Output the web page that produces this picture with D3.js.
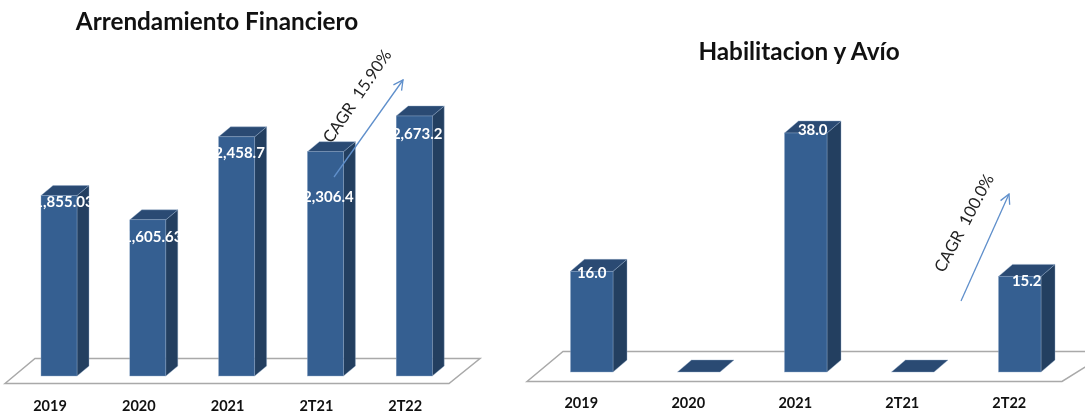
<!DOCTYPE html>
<html>
<head>
<meta charset="utf-8">
<script src="https://cdnjs.cloudflare.com/ajax/libs/d3/7.8.5/d3.min.js"></script>
<style>
  html, body { margin: 0; padding: 0; background: #fff; overflow: hidden; }
  svg { display: block; font-family: Lato, "Open Sans", sans-serif; filter: blur(0.4px); }
</style>
</head>
<body>
<svg id="chart" width="1085" height="416"></svg>
<script>
const categories = ['2019', '2020', '2021', '2T21', '2T22'];

const arrendamientoValues = [1855.03, 1605.63, 2458.7, 2306.4, 2673.2];
const arrendamientoLabels = ['1,855.03', '1,605.63', '2,458.7', '2,306.4', '2,673.2'];

const habilitacionValues = [16.0, 0, 38.0, 0, 15.2];
const habilitacionLabels = ['16.0', '', '38.0', '', '15.2'];

const svg = d3.select('#chart');
svg.append('defs').selectAll('marker')
  .data(['arrow'])
  .enter()
  .append('marker')
  .attr('id', d => d)
  .attr('viewBox', '0 0 12 12')
  .attr('refX', 10.5)
  .attr('refY', 6)
  .attr('markerWidth', 12)
  .attr('markerHeight', 12)
  .attr('markerUnits', 'userSpaceOnUse')
  .attr('orient', 'auto')
  .append('path')
  .attr('d', 'M1,1 L10.5,6 L1,11')
  .attr('fill', 'none')
  .attr('stroke', '#5f8fcb')
  .attr('stroke-width', 1.3);

function drawPanel(cfg) {
  const g = svg.append('g');
  const step = cfg.step;
  const pad = 1 - cfg.barWidth / step;

  const x = d3.scaleBand()
    .domain(categories)
    .range([cfg.x0 - pad * step / 2, cfg.x0 - pad * step / 2 + step * categories.length])
    .paddingInner(pad)
    .paddingOuter(pad / 2);

  const y = d3.scaleLinear()
    .domain(cfg.domain)
    .range([cfg.baseY, cfg.baseY - cfg.plotHeight]);

  // title
  g.append('text')
    .attr('x', cfg.titleX)
    .attr('y', cfg.titleY)
    .attr('text-anchor', 'middle')
    .attr('font-size', cfg.titleSize)
    .attr('font-weight', 700)
    .attr('fill', '#111')
    .text(cfg.title);

  // floor
  g.append('path')
    .attr('d', d3.line()(cfg.floor) + 'Z')
    .attr('fill', '#fff')
    .attr('stroke', '#a9a9a9')
    .attr('stroke-width', 1.5);

  const bars = g.selectAll('g.bar')
    .data(cfg.values.map((v, i) => ({ cat: categories[i], v, label: cfg.labels[i], i })))
    .enter()
    .append('g')
    .attr('class', 'bar');

  const dx = cfg.depthX;
  const dy = cfg.depthY;
  const bw = x.bandwidth();
  const edge = '#8fa8c8';

  // side
  bars.filter(d => d.v > 0).append('path')
    .attr('d', d => {
      const l = x(d.cat) + bw;
      return `M${l},${y(d.v)}L${l + dx},${y(d.v) - dy}L${l + dx},${cfg.baseY - dy}L${l},${cfg.baseY}Z`;
    })
    .attr('fill', '#233f60')
    .attr('stroke', edge)
    .attr('stroke-width', 0.4);

  // top
  bars.append('path')
    .attr('d', d => {
      const l = x(d.cat);
      return `M${l},${y(d.v)}L${l + dx},${y(d.v) - dy}L${l + bw + dx},${y(d.v) - dy}L${l + bw},${y(d.v)}Z`;
    })
    .attr('fill', '#2a4a73')
    .attr('stroke', edge)
    .attr('stroke-width', 0.4);

  // front
  bars.filter(d => d.v > 0).append('rect')
    .attr('x', d => x(d.cat))
    .attr('y', d => y(d.v))
    .attr('width', bw)
    .attr('height', d => cfg.baseY - y(d.v))
    .attr('fill', '#355f91')
    .attr('stroke', edge)
    .attr('stroke-width', 0.4);

  // value labels
  bars.filter(d => d.v > 0).append('text')
    .attr('x', d => x(d.cat) + bw / 2 + cfg.labelNudgeX[d.i])
    .attr('y', d => y(d.v) + cfg.labelNudgeY[d.i])
    .attr('dy', '0.35em')
    .attr('text-anchor', 'middle')
    .attr('font-size', 15)
    .attr('font-weight', 700)
    .attr('fill', '#fff')
    .text(d => d.label);

  // category axis
  const axis = g.append('g')
    .attr('transform', `translate(${cfg.axisShift},${cfg.axisY})`)
    .call(d3.axisBottom(x).tickSize(0).tickPadding(0));
  axis.select('.domain').remove();
  axis.selectAll('text')
    .attr('font-family', 'Lato, sans-serif')
    .attr('font-size', 14.5)
    .attr('font-weight', 700)
    .attr('fill', '#111')
    .attr('dy', '0.35em')
    .attr('y', 0);

  // CAGR arrow
  g.append('line')
    .attr('x1', cfg.arrow[0])
    .attr('y1', cfg.arrow[1])
    .attr('x2', cfg.arrow[2])
    .attr('y2', cfg.arrow[3])
    .attr('stroke', '#5f8fcb')
    .attr('stroke-width', 1.3)
    .attr('marker-end', 'url(#arrow)');

  g.append('text')
    .attr('transform', `translate(${cfg.cagrX},${cfg.cagrY}) rotate(${cfg.cagrAngle})`)
    .attr('text-anchor', 'middle')
    .attr('dy', '0.35em')
    .attr('font-size', 16.5)
    .attr('fill', '#222')
    .style('white-space', 'pre')
    .text(cfg.cagr);
}

drawPanel({
  title: 'Arrendamiento Financiero',
  titleX: 217, titleY: 30, titleSize: 24.3,
  values: arrendamientoValues,
  labels: arrendamientoLabels,
  domain: [0, 2673.2],
  plotHeight: 260,
  x0: 41, step: 88.8, barWidth: 36,
  baseY: 376, depthX: 12, depthY: 10,
  floor: [[5, 383.5], [35, 358.5], [480, 358.5], [449, 383.5]],
  labelNudgeX: [5, 5, 3, 3, 3],
  labelNudgeY: [6, 17, 16, 45, 18],
  axisShift: -9, axisY: 406,
  arrow: [334, 177, 403, 80],
  cagr: 'CAGR  15.90%',
  cagrX: 357, cagrY: 96, cagrAngle: -56
});

drawPanel({
  title: 'Habilitacion y Avío',
  titleX: 799, titleY: 60, titleSize: 24.3,
  values: habilitacionValues,
  labels: habilitacionLabels,
  domain: [0, 38],
  plotHeight: 239,
  x0: 570.5, step: 107, barWidth: 42.5,
  baseY: 372, depthX: 14, depthY: 12,
  floor: [[527, 381.5], [563, 351.5], [1110, 351.5], [1062, 381.5]],
  labelNudgeX: [0, 0, 7, 0, 7],
  labelNudgeY: [1, 0, -3, 0, 4],
  axisShift: -10.5, axisY: 403,
  arrow: [961, 301, 1009, 194],
  cagr: 'CAGR  100.0%',
  cagrX: 964, cagrY: 223, cagrAngle: -62
});
</script>
</body>
</html>
